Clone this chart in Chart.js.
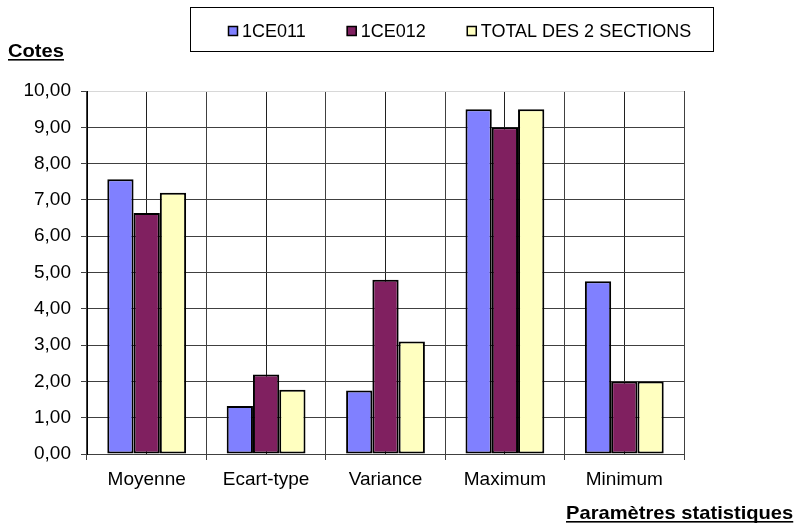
<!DOCTYPE html>
<html>
<head>
<meta charset="utf-8">
<script src="https://cdn.jsdelivr.net/npm/chart.js@4/dist/chart.umd.min.js"></script>
<style>
html,body{margin:0;padding:0;background:#fff;}
#wrap{width:798px;height:526px;position:relative;}
</style>
</head>
<body>
<div id="wrap"><canvas id="c" width="798" height="526"></canvas></div>
<script>
const categories = ['Moyenne', 'Ecart-type', 'Variance', 'Maximum', 'Minimum'];
const seriesNames = ['1CE011', '1CE012', 'TOTAL DES 2 SECTIONS'];
const values1CE011 = [7.57, 1.32, 1.75, 9.50, 4.76];
const values1CE012 = [6.64, 2.19, 4.80, 9.00, 2.00];
const valuesTotal = [7.20, 1.77, 3.10, 9.50, 2.00];
const seriesColors = ['#8080FF', '#802060', '#FFFFC0'];
const yTitle = 'Cotes';
const xTitle = 'Paramètres statistiques';
const yMin = 0, yMax = 10, yStep = 1;

const FONT = "'Liberation Sans', Arial, sans-serif";

function drawUnderlined(ctx, text, x, baseline, size, sx) {
  ctx.save();
  ctx.font = 'bold ' + size + 'px ' + FONT;
  ctx.fillStyle = '#000';
  ctx.textBaseline = 'alphabetic';
  ctx.textAlign = 'left';
  ctx.translate(x, baseline);
  ctx.scale(sx, 1);
  ctx.fillText(text, 0, 0);
  const w = ctx.measureText(text).width;
  ctx.fillRect(0, 2, w, 1.6);
  ctx.restore();
}

const decorPlugin = {
  id: 'decor',
  afterDraw(chart) {
    const ctx = chart.ctx;
    // Legend box
    ctx.save();
    ctx.strokeStyle = '#000';
    ctx.lineWidth = 1;
    ctx.strokeRect(190.5, 7.5, 523, 44);
    ctx.font = '18px ' + FONT;
    ctx.textBaseline = 'middle';
    ctx.textAlign = 'left';
    let x = 228;
    const cy = 31;
    chart.data.datasets.forEach((ds, i) => {
      ctx.fillStyle = ds.backgroundColor;
      ctx.fillRect(x, cy - 5, 10, 10);
      ctx.strokeStyle = '#000';
      ctx.lineWidth = 1.5;
      ctx.strokeRect(x + 0.5, cy - 4.5, 9, 9);
      ctx.fillStyle = '#000';
      ctx.fillText(ds.label, x + 14, cy + 1);
      x += 14 + ctx.measureText(ds.label).width + 41;
    });
    ctx.restore();
    drawUnderlined(ctx, yTitle, 8, 57, 19, 1.06);
    drawUnderlined(ctx, xTitle, 566, 519, 19, 1.06);
  }
};

new Chart(document.getElementById('c'), {
  type: 'bar',
  data: {
    labels: categories,
    datasets: [
      { label: seriesNames[0], data: values1CE011, backgroundColor: seriesColors[0] },
      { label: seriesNames[1], data: values1CE012, backgroundColor: seriesColors[1] },
      { label: seriesNames[2], data: valuesTotal, backgroundColor: seriesColors[2] }
    ].map(d => Object.assign(d, { borderColor: '#000', borderWidth: 2, borderSkipped: false, xAxisID: 'x', categoryPercentage: 0.66, barPercentage: 1.0 }))
  },
  options: {
    responsive: false,
    devicePixelRatio: 1,
    animation: false,
    layout: { padding: { top: 91, right: 114, bottom: 32, left: 0 } },
    plugins: { legend: { display: false }, tooltip: { enabled: false }, title: { display: false } },
    scales: {
      x: {
        type: 'category',
        position: 'bottom',
        offset: true,
        grid: {
          offset: true,
          color: (c) => (c.index === categories.length ? '#d0d0d0' : '#404040'),
          tickColor: '#404040',
          tickLength: 6,
          lineWidth: 1
        },
        border: { display: true, color: '#404040', width: 1 },
        ticks: { color: '#000', font: { family: FONT, size: 19 }, padding: 8, maxRotation: 0 },
        afterFit(s) { s.height = 40; }
      },
      x2: {
        type: 'category',
        position: 'bottom',
        offset: true,
        grid: { offset: false, color: '#202020', drawTicks: false, lineWidth: 1 },
        border: { display: false },
        ticks: { display: false },
        afterFit(s) { s.height = 0; }
      },
      y: {
        min: yMin,
        max: yMax,
        grid: {
          color: (c) => (c.tick && c.tick.value === yMax ? '#d8d8d8' : '#404040'),
          tickColor: '#404040',
          tickLength: 6,
          lineWidth: 1
        },
        border: { display: true, color: '#000', width: 1 },
        ticks: {
          stepSize: yStep,
          color: '#000',
          padding: 10,
          font: { family: FONT, size: 19 },
          callback: (v) => Number(v).toFixed(2).replace('.', ',')
        },
        afterFit(s) { s.width = 87; }
      }
    }
  },
  plugins: [decorPlugin]
});
</script>
</body>
</html>
